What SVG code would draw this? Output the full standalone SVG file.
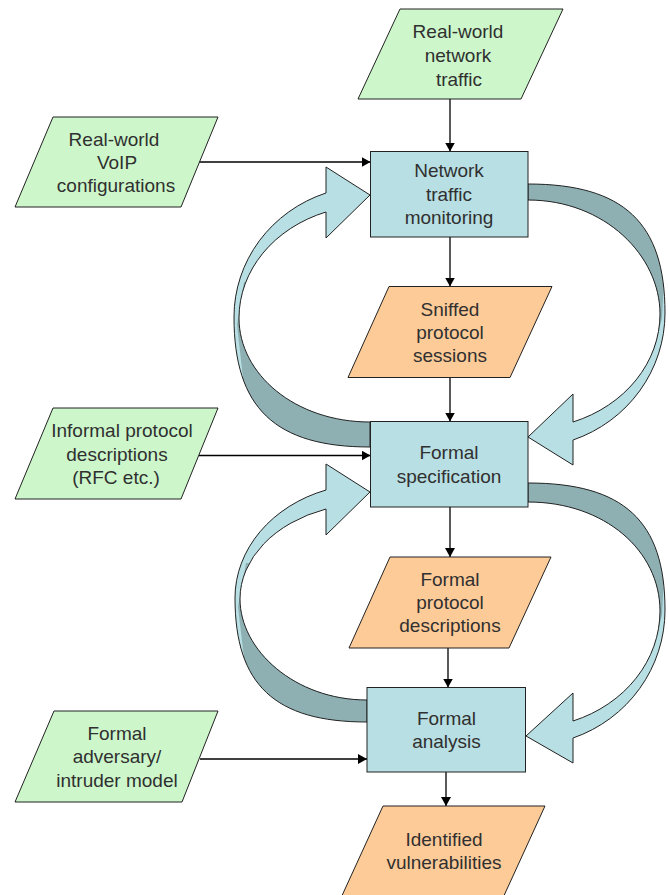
<svg xmlns="http://www.w3.org/2000/svg" width="668" height="895" viewBox="0 0 668 895">
<style>
  .box { fill: #b8dfe3; stroke: #222; stroke-width: 1; }
  .in { fill: #cdf7cb; stroke: #222; stroke-width: 1; }
  .out { fill: #fdcb98; stroke: #222; stroke-width: 1; }
  .lbl { font-family: "Liberation Sans", Arial, sans-serif; font-size: 19px; fill: #303030; text-anchor: middle; }
  .flow { fill: none; stroke: #000; stroke-width: 1.3; marker-end: url(#arr); }
  .band { fill: #b8dfe3; stroke: none; }
  .band-dark { fill: #8fb0b3; stroke: none; }
  .band-line { fill: none; stroke: #222; stroke-width: 1; stroke-linejoin: miter; }
</style>
<defs>
  <marker id="arr" viewBox="0 0 9 10" refX="9" refY="5" markerWidth="9" markerHeight="10" markerUnits="userSpaceOnUse" orient="auto">
    <path d="M0,0 L9,5 L0,10 Z" fill="#000"/>
  </marker>
  <path id="la1" d="M326,193 A136,131 0 0 0 234,317 C234,408 275,447 370,447 L370,422 C295,422 239,374 239,318 A131,112.5 0 0 1 326,212 L326,238 L370,195 L326,167 Z"/>
  <path id="la2" d="M326,490 A135,114.2 0 0 0 235,598 C235,685 275,722 367,722 L367,700 C295,700 240,650 240,599 A130,95.6 0 0 1 326,509 L326,535 L370,492 L326,464 Z"/>
  <path id="ra1" d="M528,184 C624,184 665,223 665,313 A137,134.5 0 0 1 573,440 L573,465 L528,437 L573,394 L573,422 A132,114.9 0 0 0 660,314 C660,256 605,200 528,200 Z"/>
  <path id="ra2" d="M528,483 C624,483 665,521 665,610 A137,135.5 0 0 1 573,738 L573,763 L526,736 L573,693 L573,721 A132,117 0 0 0 660,611 C660,551 605,502 528,502 Z"/>
  <clipPath id="cla1"><polygon points="244,282 237,325 243,378 180,410 180,520 420,520 420,282"/></clipPath>
  <clipPath id="cla2"><polygon points="246,563 238,607 244,658 180,690 180,800 420,800 420,563"/></clipPath>
  <clipPath id="cra1"><polygon points="654,350 662,318 664,280 720,260 720,140 480,140 480,350"/></clipPath>
  <clipPath id="cra2"><polygon points="654,647 662,615 664,577 720,557 720,440 480,440 480,647"/></clipPath>
</defs>

<g id="connectors">
  <g id="feedback-monitoring-spec-left">
    <use href="#la1" class="band"/>
    <use href="#la1" class="band-dark" clip-path="url(#cla1)"/>
    <use href="#la1" class="band-line"/>
  </g>
  <g id="feedback-monitoring-spec-right">
    <use href="#ra1" class="band"/>
    <use href="#ra1" class="band-dark" clip-path="url(#cra1)"/>
    <use href="#ra1" class="band-line"/>
  </g>
  <g id="feedback-spec-analysis-left">
    <use href="#la2" class="band"/>
    <use href="#la2" class="band-dark" clip-path="url(#cla2)"/>
    <use href="#la2" class="band-line"/>
  </g>
  <g id="feedback-spec-analysis-right">
    <use href="#ra2" class="band"/>
    <use href="#ra2" class="band-dark" clip-path="url(#cra2)"/>
    <use href="#ra2" class="band-line"/>
  </g>
  <path class="flow" d="M450,99 L450,151.5"/>
  <path class="flow" d="M199,162 L370.5,162"/>
  <path class="flow" d="M450,237 L450,286.5"/>
  <path class="flow" d="M450,377.5 L450,421.5"/>
  <path class="flow" d="M199,455.5 L370.5,455.5"/>
  <path class="flow" d="M450,507 L450,557"/>
  <path class="flow" d="M448,648 L448,687.5"/>
  <path class="flow" d="M200,759 L367,759"/>
  <path class="flow" d="M446,772 L446,806"/>
</g>

<g id="n-traffic">
  <polygon class="in" points="400,9 563,9 521,99 358,99"/>
  <text class="lbl" x="458" y="38">Real-world</text>
  <text class="lbl" x="458" y="62">network</text>
  <text class="lbl" x="459" y="86">traffic</text>
</g>
<g id="n-voip">
  <polygon class="in" points="53,117 218,117 181,207 15,207"/>
  <text class="lbl" x="114" y="146">Real-world</text>
  <text class="lbl" x="117" y="169">VoIP</text>
  <text class="lbl" x="116" y="192">configurations</text>
</g>
<g id="n-monitoring">
  <rect class="box" x="370.5" y="151.5" width="157.5" height="85.5"/>
  <text class="lbl" x="449" y="177">Network</text>
  <text class="lbl" x="449" y="201">traffic</text>
  <text class="lbl" x="449" y="224">monitoring</text>
</g>
<g id="n-sniffed">
  <polygon class="out" points="389,286.5 552,286.5 510,377.5 348,377.5"/>
  <text class="lbl" x="450" y="316">Sniffed</text>
  <text class="lbl" x="450" y="339">protocol</text>
  <text class="lbl" x="450" y="362">sessions</text>
</g>
<g id="n-informal">
  <polygon class="in" points="53,408 218,408 181,499 15,499"/>
  <text class="lbl" x="122" y="437">Informal protocol</text>
  <text class="lbl" x="117" y="461">descriptions</text>
  <text class="lbl" x="116" y="484">(RFC etc.)</text>
</g>
<g id="n-spec">
  <rect class="box" x="370.5" y="421.5" width="157.5" height="85.5"/>
  <text class="lbl" x="449" y="459">Formal</text>
  <text class="lbl" x="449" y="483">specification</text>
</g>
<g id="n-formal-desc">
  <polygon class="out" points="390,557 551,557 509,648 349,648"/>
  <text class="lbl" x="450" y="586">Formal</text>
  <text class="lbl" x="450" y="609">protocol</text>
  <text class="lbl" x="450" y="632">descriptions</text>
</g>
<g id="n-analysis">
  <rect class="box" x="367" y="687.5" width="158.5" height="84.5"/>
  <text class="lbl" x="446.5" y="725">Formal</text>
  <text class="lbl" x="446.5" y="748">analysis</text>
</g>
<g id="n-adversary">
  <polygon class="in" points="54,711 218,711 182,802 15,802"/>
  <text class="lbl" x="117" y="740">Formal</text>
  <text class="lbl" x="117" y="763">adversary/</text>
  <text class="lbl" x="117" y="787">intruder model</text>
</g>
<g id="n-vulnerabilities">
  <polygon class="out" points="383,806 545,806 502,900 340,900"/>
  <text class="lbl" x="444" y="846">Identified</text>
  <text class="lbl" x="444" y="869">vulnerabilities</text>
</g>
</svg>
